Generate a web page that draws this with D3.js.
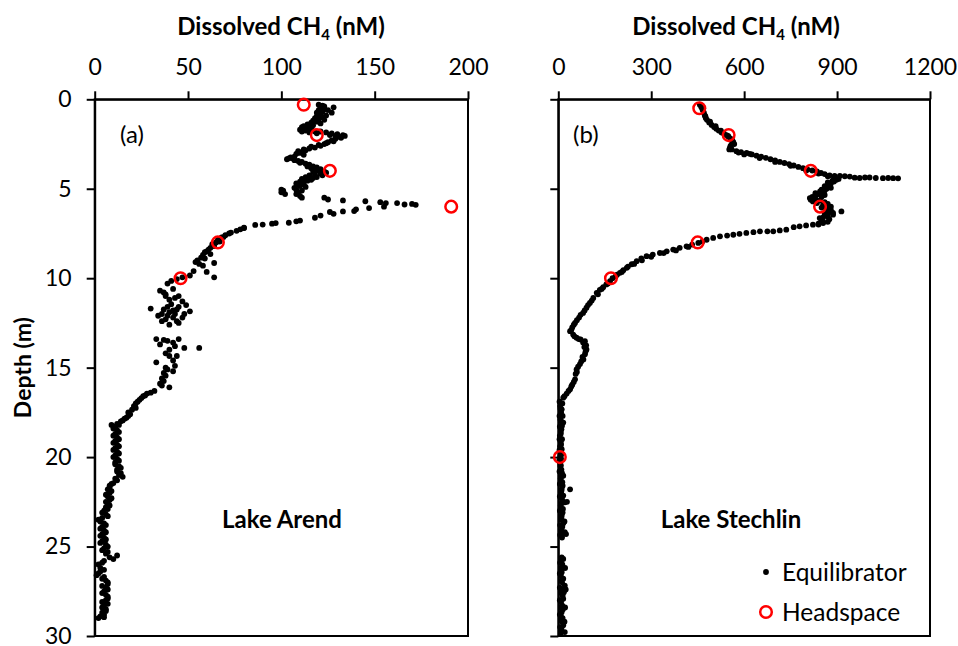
<!DOCTYPE html>
<html>
<head>
<meta charset="utf-8">
<script src="https://cdn.jsdelivr.net/npm/d3@7"></script>
<style>
  body { margin: 0; background: #fff; }
  text { font-family: Lato, "Open Sans", sans-serif; fill: #000; }
  .axis path, .axis line { stroke: #000; stroke-width: 2; }
  .axis text { font-size: 23px; }
</style>
</head>
<body>
<div id="chart"></div>
<script>
var svgWidth = 958;
var svgHeight = 646;

// Lake Arend, equilibrator profile [CH4 nM, depth m]
var arendEquil = [
  [120,0.3],[122,0.35],[121,0.45],[128,0.45],[123,0.55],[120,0.6],[127,0.75],[122,0.7],[121,0.85],[124,0.9],
  [119,0.95],[122,1.0],[118,1.05],[120,1.1],[117,1.2],[119,1.25],[116,1.3],[114,1.4],[117,1.45],[112,1.5],
  [111,1.55],[114,1.6],[110,1.7],[113,1.75],[116,1.65],[118,1.8],[121,1.8],[124,1.85],[127,1.9],[130,1.95],
  [133,2.0],[134,2.05],[131,2.1],[129,2.2],[127,2.3],[125,2.4],[123,2.5],[121,2.6],[118,2.7],[115,2.75],
  [113,2.85],[111,2.95],[110,3.0],[112,3.1],[107,3.2],[105,3.25],[104,3.3],[107,3.4],[109,3.45],[111,3.5],
  [113,3.6],[115,3.65],[117,3.75],[119,3.8],[121,3.9],[119,3.95],[123,4.05],[117,4.05],[121,4.15],[118,4.2],
  [115,4.25],[119,4.35],[113,4.35],[111,4.45],[116,4.5],[110,4.6],[108,4.7],[112,4.75],[110,4.85],[107,4.95],
  [108,5.05],[101,5.1],[100,5.2],[102,5.3],[108,5.3],[110,5.4],[111,5.5],
  [123,0.4],[125,0.6],[119,0.75],[123,1.15],[121,1.35],[115,1.5],[113,1.65],[111,1.8],[115,1.85],[119,1.9],
  [126,2.0],[129,2.05],[132,2.15],[128,2.35],[124,2.45],[120,2.55],[116,2.65],[112,2.8],[109,2.9],[108,3.05],
  [103,3.35],[106,3.3],[110,3.55],[114,3.75],[116,3.85],[120,4.0],[124,4.1],[122,4.25],[117,4.4],[114,4.55],
  [112,4.6],[109,4.75],[113,4.9],[111,5.1],[100,5.05],[109,5.2],
  [123,5.5],[125,5.6],[133,5.65],[145,5.7],[153,5.75],[156,5.8],[162,5.8],[166,5.88],[170,5.85],[172,5.9],
  [155,6.0],[147,6.08],[140,6.15],[139,6.25],[133,6.27],[126,6.3],[128,6.4],[121,6.5],[118,6.62],[110,6.78],
  [108,6.82],[104,6.9],[97,6.92],[95,6.95],[90,7.0],[86,7.02],[80,7.18],[78,7.27],
  [80,7.2],[76,7.35],[73,7.45],[72,7.5],[70,7.6],[68,7.72],[66,7.85],[65,8.0],[63,8.1],[62,8.3],
  [61,8.4],[59,8.55],[58,8.7],[57,8.85],[55,9.0],[54,9.1],[64,9.15],[58,9.3],[60,9.65],[64,9.95],
  [69,7.7],[67,7.95],[64,8.2],[60,8.5],[62,8.65],[59,8.9],[56,9.2],
  [53,9.6],[51,9.85],[47,9.95],[44,10.05],[41,10.15],[39,10.3],[42,10.6],[35,10.7],[38,10.9],[38,11.0],
  [43,11.1],[47,11.3],[49,11.5],[41,11.45],[45,11.6],[30,11.7],[37,11.75],[44,11.75],[51,11.85],[40,11.9],
  [36,12.0],[43,12.0],[34,12.1],[42,12.2],[47,12.2],[38,12.3],[36,12.4],[44,12.4],[45,12.5],[40,12.6],
  [37,10.8],[40,11.2],[45,11.0],[39,11.6],[42,11.8],[48,12.0],[39,12.1],
  [33,13.4],[39,13.5],[45,13.4],[35,13.7],[43,13.8],[48,13.9],[56,13.9],[40,14.35],[44,14.35],[33,14.7],
  [37,13.45],[42,13.6],[40,14.0],[38,14.2],[42,14.6],
  [43,14.9],[38,15.0],[37,15.3],[36,15.6],[35,15.9],[40,16.1],[32,16.3],[28,16.45],[26,16.6],[24,16.8],
  [39,15.1],[38,15.45],[37,15.75],[36,16.0],[42,15.2],
  [30,16.4],[27,16.55],[25,16.7],[22,17.0],[22,17.25],[18,17.5],[18,17.7],[16,17.85],[14,18.0],
  [23,16.9],[21,17.15],[20,17.35],[19,17.6],[17,17.8],[15,17.95],[12,18.15],[9,18.2],[11,18.3],[12,18.5],
  [11,18.7],[12,18.9],[11,19.1],[12,19.3],[11,19.5],[12,19.7],[11,19.9],[12,20.1],[11,20.3],[13,20.5],
  [12,20.7],[14,20.9],[15,21.1],[12,21.3],[10,21.45],[8,21.6],[7,21.8],[8,22.0],[7,22.2],[8,22.4],
  [13,18.2],[10,18.4],[13,18.6],[10,18.8],[13,19.0],[10,19.2],[13,19.4],[10,19.6],[13,19.8],[10,20.0],
  [13,20.2],[11,20.4],[14,20.6],[12,20.8],[13,21.0],[11,21.2],[9,21.5],[8,21.7],[9,21.9],[6,22.1],
  [7,22.6],[6,22.8],[5,23.0],[6,23.2],[2,23.5],[4,23.4],[5,23.7],[4,23.9],[5,24.1],[4,24.3],
  [9,22.3],[6,22.5],[8,22.7],[7,22.9],[4,23.1],[7,23.3],[3,23.6],[6,23.8],[3,24.0],[6,24.2],
  [5,24.5],[4,24.7],[6,24.9],[5,25.1],[7,25.3],[12,25.5],[10,25.7],[4,25.9],[3,26.2],[3,26.4],
  [3,24.4],[6,24.6],[3,24.8],[7,25.0],[4,25.2],[6,25.4],[8,25.6],[5,25.8],[2,26.0],[5,26.3],
  [1,26.6],[5,26.7],[6,26.9],[7,27.1],[6,27.3],[5,27.5],[6,27.7],[7,27.9],[4,28.1],[5,28.3],
  [2,26.5],[4,26.8],[7,27.0],[4,27.2],[7,27.4],[4,27.6],[7,27.8],[6,28.0],[7,28.2],[4,28.4],
  [6,28.5],[4,28.7],[3,28.9],[5,28.8],[6,28.6],[5,28.95],[2,29.0]
];

// Lake Arend, headspace samples
var arendHead = [[112,0.3],[119,2],[126,4],[191,6],[66,8],[46,10]];

// Lake Stechlin, equilibrator profile
var stechEquil = [
  [457,0.3],[462,0.45],[466,0.6],[470,0.75],[473,0.9],[476,1.05],[480,1.15],[487,1.3],[495,1.43],[503,1.55],
  [510,1.65],[518,1.75],[527,1.85],[535,1.92],[543,2.0],[550,2.1],[556,2.2],[562,2.3],[565,2.4],[560,2.5],
  [556,2.6],[554,2.72],[560,2.8],[575,2.9],[590,2.95],[608,3.0],[625,3.08],[640,3.15],[655,3.2],[670,3.27],
  [685,3.35],[700,3.42],[715,3.5],[730,3.56],[745,3.62],[760,3.7],[775,3.78],[790,3.85],[805,3.93],[820,3.98],
  [835,4.03],[848,4.12],[860,4.18],[876,4.25],[892,4.28],[909,4.28],[925,4.3],[941,4.32],[957,4.38],[973,4.4],
  [990,4.37],[1005,4.37],[1025,4.4],[1048,4.41],[1065,4.4],[1081,4.41],[1097,4.42],
  [600,3.08],[650,3.28],[700,3.5],[750,3.72],[800,3.98],[840,4.15],[870,4.3],[890,4.4],
  [468,0.5],[475,0.95],[490,1.25],[508,1.5],[525,1.75],[548,2.05],[568,2.5],[552,2.8],[582,2.98],[618,3.05],
  [905,4.45],[898,4.5],[890,4.6],[880,4.7],[876,4.78],[870,4.9],[866,5.0],[860,5.1],[850,5.2],[840,5.3],
  [833,5.34],[820,5.45],[812,5.52],[815,5.62],[822,5.71],[835,5.8],[855,5.89],[860,6.0],[866,6.1],[866,6.17],
  [880,6.2],[914,6.27],[887,6.35],[887,6.45],[870,6.55],[855,6.6],[844,6.64],[850,6.75],[855,6.85],[855,6.92],
  [885,4.55],[870,4.65],[860,4.85],[880,4.95],[850,5.05],[845,5.15],[830,5.25],[860,5.35],[850,5.45],[830,5.55],
  [845,5.65],[860,5.75],[870,5.85],[880,6.0],[850,6.05],[875,6.3],[860,6.4],[875,6.7],[870,6.85],[840,6.95],
  [840,7.0],[822,7.01],[800,7.05],[779,7.1],[760,7.15],[736,7.29],[715,7.33],[694,7.38],[675,7.38],[651,7.38],
  [630,7.43],[607,7.47],[585,7.52],[565,7.57],[545,7.62],[522,7.66],[500,7.75],[479,7.85],[465,7.95],[452,8.03],
  [432,8.12],[414,8.22],[392,8.3],[371,8.4],[350,8.5],[328,8.59],[305,8.68],[285,8.77],[268,8.9],[253,9.05],
  [237,9.22],[221,9.42],[210,9.55],[199,9.7],[185,9.9],[167,10.17],[155,10.35],[145,10.5],[134,10.65],[124,10.82],
  [420,8.25],[380,8.45],[340,8.6],[300,8.8],[270,9.0],[245,9.2],[225,9.35],[205,9.65],[190,9.8],[175,10.0],
  [160,10.3],[140,10.6],[128,10.9],
  [113,11.1],[102,11.38],[91,11.65],[80,11.94],[67,12.2],[54,12.5],[45,12.75],[38,12.96],[48,13.15],[59,13.33],
  [72,13.42],[86,13.52],[90,13.75],[91,13.98],[86,14.25],[81,14.54],[70,14.8],[59,15.1],[56,15.35],[54,15.65],
  [45,15.95],[38,16.21],[27,16.45],[16,16.68],[13,17.0],[11,17.33],[14,17.7],[16,18.07],[10,18.45],[5,18.81],
  [108,11.25],[96,11.5],[85,11.8],[72,12.05],[60,12.35],[50,12.6],[42,12.9],[52,13.25],[66,13.4],[80,13.6],
  [84,13.85],[88,14.1],[78,14.4],[74,14.65],[64,14.95],[60,15.25],[50,15.8],[42,16.05],[33,16.3],[20,16.6],
  [8,19.2],[11,19.56],[7,19.95],[5,20.3],[10,20.7],[16,21.04],[13,21.4],[11,21.79],[16,22.15],[21,22.53],
  [15,22.9],[11,23.27],[16,23.7],[21,24.2],[11,24.4],[11,25.6],[16,25.69],[13,26.0],[11,26.43],[16,26.8],
  [21,27.18],[18,27.55],[16,27.92],[13,28.3],[11,28.66],[14,29.0],[16,29.4],[21,29.78],
  [6,17.15],[9,17.5],[7,17.9],[12,18.25],[8,18.6],[12,19.0],[6,19.4],[10,19.8],[9,20.1],[7,20.5],
  [12,20.9],[8,21.2],[14,21.6],[9,22.0],[12,22.35],[8,22.7],[14,23.1],[9,23.5],[13,23.9],[8,24.3],
  [4,16.9],[7,17.3],[4,17.7],[9,18.0],[5,18.3],[8,18.7],[4,19.0],[9,19.3],[4,19.6],[8,19.9],
  [3,20.2],[8,20.45],[4,20.8],[9,21.1],[5,21.5],[10,21.9],[5,22.2],[9,22.6],[5,23.0],[10,23.4],
  [6,23.8],[10,24.1],[6,24.35],[38,21.8],[28,22.5],[20,23.6],[25,24.3],[12,24.5],
  [9,25.8],[14,26.2],[8,26.6],[12,27.0],[9,27.4],[14,27.75],[9,28.1],[15,28.5],[8,28.85],[12,29.2],[10,29.6],
  [6,25.9],[10,26.2],[5,26.5],[9,26.9],[5,27.3],[10,27.6],[5,28.0],[9,28.4],[5,28.8],[9,29.1],[6,29.5],[9,29.8],
  [22,26.2],[24,27.4],[22,28.4],[20,29.2]
];

// Lake Stechlin, headspace samples
var stechHead = [[455,0.5],[550,2],[815,4],[845,6],[450,8],[170,10],[5,20]];

var depthTicks = [0, 5, 10, 15, 20, 25, 30];
var arendTicks = [0, 50, 100, 150, 200];
var stechTicks = [0, 300, 600, 900, 1200];

var svg = d3.select("#chart")
    .append("svg")
    .attr("width", svgWidth)
    .attr("height", svgHeight);

var yScale = d3.scaleLinear()
    .domain([0, 30])
    .range([99.3, 636]);

function drawPanel(opts) {
    var xScale = d3.scaleLinear()
        .domain(opts.domain)
        .range(opts.range);

    // top axis
    svg.append("g")
        .attr("class", "axis")
        .attr("transform", `translate(0, ${yScale(0)})`)
        .call(d3.axisTop(xScale).tickValues(opts.ticks).tickFormat(d3.format("d"))
            .tickSize(8).tickPadding(16).tickSizeOuter(0));

    // left axis
    var leftAxis = d3.axisLeft(yScale).tickValues(depthTicks).tickSize(8).tickPadding(15).tickSizeOuter(0);
    if (!opts.yLabels) leftAxis.tickFormat("");
    svg.append("g")
        .attr("class", "axis")
        .attr("transform", `translate(${opts.range[0]}, 0)`)
        .call(leftAxis);

    // box frame
    svg.append("rect")
        .attr("x", opts.range[0])
        .attr("y", yScale(0))
        .attr("width", opts.range[1] - opts.range[0])
        .attr("height", yScale(30) - yScale(0))
        .attr("fill", "none")
        .attr("stroke", "#000")
        .attr("stroke-width", 2);

    // title
    var title = svg.append("text")
        .attr("x", opts.titleX)
        .attr("y", 35)
        .attr("text-anchor", "middle")
        .style("font-size", "24px")
        .style("font-weight", "bold");
    title.append("tspan").text("Dissolved CH");
    title.append("tspan").attr("dy", 5).style("font-size", "15px").text("4");
    title.append("tspan").attr("dy", -5).text(" (nM)");

    svg.append("g").selectAll("circle")
        .data(opts.equil)
        .enter()
        .append("circle")
        .attr("cx", d => xScale(d[0]))
        .attr("cy", d => yScale(d[1]))
        .attr("r", 2.9)
        .attr("fill", "#000");

    svg.append("g").selectAll("circle")
        .data(opts.head)
        .enter()
        .append("circle")
        .attr("cx", d => xScale(d[0]))
        .attr("cy", d => yScale(d[1]))
        .attr("r", 5.8)
        .attr("fill", "none")
        .attr("stroke", "#ff0000")
        .attr("stroke-width", 2.5);

    svg.append("text")
        .attr("x", opts.tagX)
        .attr("y", 143)
        .style("font-size", "24px")
        .text(opts.tag);

    svg.append("text")
        .attr("x", opts.lakeX)
        .attr("y", 528)
        .attr("text-anchor", "middle")
        .style("font-size", "24px")
        .style("font-weight", "bold")
        .text(opts.lake);
}

drawPanel({domain: [0, 200], range: [94.7, 468], ticks: arendTicks, yLabels: true, titleX: 281,
    equil: arendEquil, head: arendHead, tag: "(a)", tagX: 120, lake: "Lake Arend", lakeX: 282});
drawPanel({domain: [0, 1200], range: [558.3, 930], ticks: stechTicks, yLabels: false, titleX: 736,
    equil: stechEquil, head: stechHead, tag: "(b)", tagX: 573, lake: "Lake Stechlin", lakeX: 731});

// y axis title
svg.append("text")
    .attr("transform", `translate(31, ${(yScale(0) + yScale(30)) / 2}) rotate(-90)`)
    .attr("text-anchor", "middle")
    .style("font-size", "23px")
    .style("font-weight", "bold")
    .text("Depth (m)");

// legend
svg.append("circle").attr("cx", 766).attr("cy", 572).attr("r", 2.9).attr("fill", "#000");
svg.append("text").attr("x", 782).attr("y", 581).style("font-size", "24.5px").text("Equilibrator");
svg.append("circle").attr("cx", 766).attr("cy", 612).attr("r", 5.8)
    .attr("fill", "none").attr("stroke", "#ff0000").attr("stroke-width", 2.5);
svg.append("text").attr("x", 782).attr("y", 621).style("font-size", "24.5px").text("Headspace");
</script>
</body>
</html>
